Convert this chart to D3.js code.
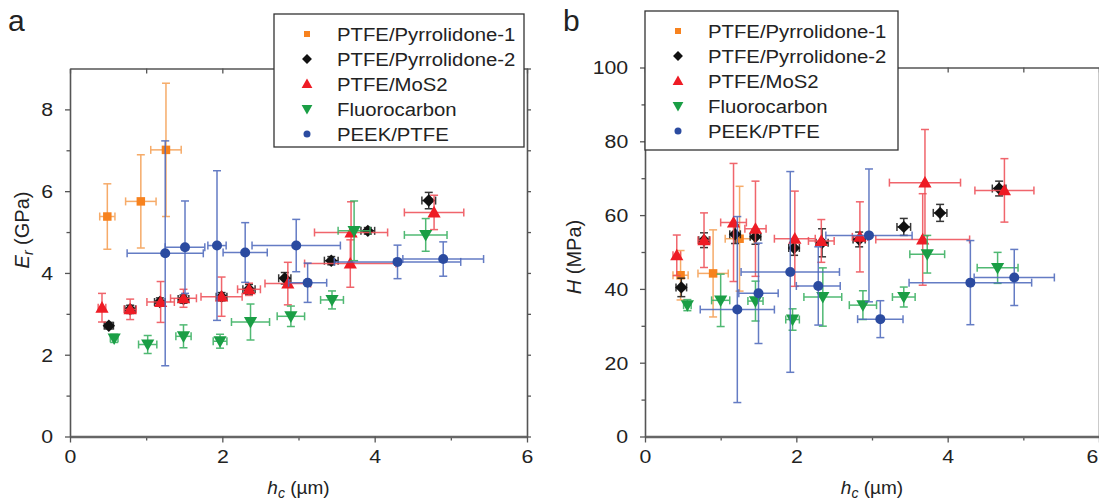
<!DOCTYPE html>
<html><head><meta charset="utf-8">
<script src="https://cdn.jsdelivr.net/npm/d3@7"></script>
<style>body{margin:0;background:#fff}svg{display:block}text{font-family:"Liberation Sans",Arial,sans-serif;fill:#222}</style>
</head><body><svg id="c" width="1099" height="502"></svg>
<script>
// ---------- data ----------
const seriesNames = ["PTFE/Pyrrolidone-1","PTFE/Pyrrolidone-2","PTFE/MoS2","Fluorocarbon","PEEK/PTFE"];
const seriesColors = ["#f7821e","#111111","#ee1c25","#1a9e45","#2b4ba0"];
const barColors = ["#f5a055","#222222","#ef5058","#38b060","#4f6abd"];
const seriesShapes = ["square","diamond","triangle","triangleDown","circle"];

// panel a : [hc (µm), Er (GPa), hc error, Er error]
const aPyr1 = [[0.49,5.38,0.10,0.80],[0.93,5.75,0.20,1.14],[1.26,7.01,0.20,1.63]];
const aPyr2 = [[0.51,2.71,0.06,0.08],[0.79,3.11,0.07,0.10],[1.18,3.29,0.07,0.10],[1.49,3.36,0.07,0.10],[1.99,3.42,0.07,0.10],
               [2.35,3.60,0.08,0.12],[2.82,3.87,0.08,0.14],[3.43,4.30,0.09,0.10],[3.91,5.03,0.09,0.08],[4.71,5.77,0.09,0.20]];
const aMoS2 = [[0.42,3.15,0.05,0.35],[0.79,3.11,0.08,0.25],[1.19,3.29,0.18,0.50],[1.49,3.38,0.17,0.22],[1.99,3.42,0.27,0.48],
               [2.35,3.60,0.15,0.15],[2.86,3.74,0.30,0.52],[3.68,4.23,0.60,0.58],[3.69,4.99,0.48,0.75],[4.78,5.48,0.39,0.42]];
const aFluoro = [[0.58,2.40,0.05,0.10],[1.02,2.25,0.12,0.22],[1.49,2.45,0.10,0.28],[1.97,2.33,0.09,0.17],[2.37,2.80,0.25,0.44],
                 [2.90,2.94,0.18,0.25],[3.44,3.34,0.15,0.22],[3.73,5.03,0.21,0.73],[4.67,4.93,0.28,0.40]];
const aPeek = [[1.25,4.48,0.50,2.75],[1.51,4.63,0.26,1.13],[1.93,4.67,0.12,1.83],[2.30,4.50,0.29,0.73],
               [2.97,4.67,0.58,0.64],[3.12,3.76,0.25,0.48],[4.30,4.27,0.83,0.41],[4.90,4.34,0.53,0.42]];

// panel b : [hc (µm), H (MPa), hc error, H error]
const bPyr1 = [[0.47,43.7,0.10,6.7],[0.90,44.2,0.20,11.8],[1.25,53.6,0.19,14.2]];
const bPyr2 = [[0.48,40.4,0.07,2.5],[0.78,53.2,0.07,2.0],[1.19,54.8,0.07,2.5],[1.46,54.1,0.07,2.0],[1.97,51.1,0.07,2.0],
               [2.34,52.5,0.08,3.8],[2.83,53.4,0.08,2.0],[3.42,56.8,0.09,2.3],[3.90,60.6,0.09,2.3],[4.68,67.2,0.09,2.0]];
const bMoS2 = [[0.42,49.1,0.05,5.5],[0.78,53.2,0.08,7.4],[1.17,58.0,0.17,16.0],[1.46,56.3,0.14,12.9],[1.98,53.6,0.27,12.9],
               [2.33,53.0,0.17,5.8],[2.84,54.1,0.10,9.5],[3.67,53.4,0.62,12.4],[3.70,68.8,0.47,14.4],[4.75,66.7,0.39,8.6]];
const bFluoro = [[0.56,35.6,0.05,1.5],[1.00,36.9,0.12,7.1],[1.46,36.7,0.10,5.4],[1.95,31.7,0.09,2.9],[2.35,37.8,0.25,7.9],
                 [2.88,35.6,0.18,3.9],[3.42,37.8,0.15,2.7],[3.73,49.4,0.23,5.1],[4.66,45.7,0.27,4.2]];
const bPeek = [[1.22,34.4,0.49,25.2],[1.50,38.8,0.26,13.6],[1.92,44.6,0.65,27.2],[2.29,40.8,0.29,10.6],
               [2.96,54.5,0.57,18.0],[3.11,31.8,0.30,5.0],[4.30,41.7,0.81,11.4],[4.88,43.1,0.53,7.6]];

const xTicks = [0,2,4,6];
const xMinorTicks = [1,3,5];
const xAllTicks = [0,1,2,3,4,5,6];
const aYTicks = [0,2,4,6,8];
const aYMinor = [1,3,5,7];
const aYAll = [0,1,2,3,4,5,6,7,8,9];
const bYTicks = [0,20,40,60,80,100];
const bYMinor = [10,30,50,70,90];
const bYAll = [0,10,20,30,40,50,60,70,80,90,100];

// ---------- drawing ----------
const svg = d3.select("#c");
svg.append("rect").attr("width",1099).attr("height",502).attr("fill","#fff");

function shapePath(shape, s){
  switch(shape){
    case "square": return `M${-s/2},${-s/2}h${s}v${s}h${-s}Z`;
    case "diamond": return `M0,${-s*0.62}L${s*0.62},0L0,${s*0.62}L${-s*0.62},0Z`;
    case "triangle": return `M0,${-s*0.6}L${s*0.6},${s*0.45}L${-s*0.6},${s*0.45}Z`;
    case "triangleDown": return `M0,${s*0.6}L${s*0.6},${-s*0.45}L${-s*0.6},${-s*0.45}Z`;
    case "circle": return d3.symbol(d3.symbolCircle, Math.PI*(s/2)*(s/2))();
  }
}
const markerSize = [8.5,10,11,11,10];
const legendSize = [6,8,9,9,7];
const fmt = d3.format("d");

function panel(opt){
  const g = svg.append("g");
  const x = d3.scaleLinear().domain([0,6]).range(opt.xRange);
  const y = d3.scaleLinear().domain(opt.yDomain).range(opt.yRange);
  const fs = 19, sx = 1.12;

  const axStyle = sel => { sel.select(".domain").attr("stroke","#555").attr("stroke-width",1.6);
    sel.selectAll(".tick line").attr("stroke","#555").attr("stroke-width",1.3); };

  g.append("g").attr("transform",`translate(${opt.xRange[0]},0)`)
    .call(d3.axisLeft(y).tickValues(opt.yMinor).tickSize(3.5).tickFormat(""))
    .call(axStyle).select(".domain").remove();
  g.append("g").attr("transform",`translate(0,${opt.yRange[0]})`)
    .call(d3.axisBottom(x).tickValues(xMinorTicks).tickSize(4).tickFormat(""))
    .call(axStyle).select(".domain").remove();
  g.append("g").attr("transform",`translate(0,${opt.yRange[1]})`)
    .call(d3.axisTop(x).tickValues(xAllTicks).tickSizeInner(-5).tickSizeOuter(0).tickFormat(""))
    .call(axStyle);
  g.append("g").attr("transform",`translate(${opt.xRange[1]},0)`)
    .call(d3.axisRight(y).tickValues(opt.yAll).tickSizeInner(4).tickSizeOuter(0).tickFormat(""))
    .call(axStyle);
  const yl = g.append("g").attr("transform",`translate(${opt.xRange[0]},0)`)
    .call(d3.axisLeft(y).tickValues(opt.yTicks).tickSizeInner(5).tickSizeOuter(0).tickPadding(10).tickFormat(fmt))
    .call(axStyle);
  yl.selectAll("text").attr("font-size",fs).attr("font-family","Liberation Sans, Arial, sans-serif")
    .attr("fill","#222").attr("transform",`scale(${sx},1)`).attr("dy","0.34em");
  const xl = g.append("g").attr("transform",`translate(0,${opt.yRange[0]})`)
    .call(d3.axisBottom(x).tickValues(xTicks).tickSizeInner(6).tickSizeOuter(0).tickPadding(7).tickFormat(fmt))
    .call(axStyle);
  xl.select(".domain").attr("stroke-width",2.6).attr("stroke","#666");
  xl.selectAll("text").attr("font-size",fs).attr("font-family","Liberation Sans, Arial, sans-serif")
    .attr("fill","#222").attr("transform",`scale(${sx},1)`);
  if (opt.lastLabelEnd) {
    xl.selectAll(".tick").filter(d=>d===6).select("text").attr("text-anchor","end").attr("x",-1);
  }

  const plot = g.append("g");
  opt.series.forEach((data,i)=>{
    const sg = plot.append("g");
    const col = barColors[i];
    const cap = 4;
    data.forEach(d=>{
      const [hc,v,xe,ye] = d;
      const cx = x(hc), cy = y(v);
      const eb = sg.append("g").attr("stroke",col).attr("stroke-width",1.5).attr("fill","none")
        .attr("opacity", i===1 ? 0.9 : 0.88);
      eb.append("line").attr("x1",cx).attr("x2",cx).attr("y1",y(v-ye)).attr("y2",y(v+ye));
      eb.append("line").attr("x1",cx-cap).attr("x2",cx+cap).attr("y1",y(v-ye)).attr("y2",y(v-ye));
      eb.append("line").attr("x1",cx-cap).attr("x2",cx+cap).attr("y1",y(v+ye)).attr("y2",y(v+ye));
      eb.append("line").attr("x1",x(hc-xe)).attr("x2",x(hc+xe)).attr("y1",cy).attr("y2",cy);
      eb.append("line").attr("x1",x(hc-xe)).attr("x2",x(hc-xe)).attr("y1",cy-cap).attr("y2",cy+cap);
      eb.append("line").attr("x1",x(hc+xe)).attr("x2",x(hc+xe)).attr("y1",cy-cap).attr("y2",cy+cap);
    });
    sg.selectAll("path.m").data(data).join("path").attr("class","m")
      .attr("d",shapePath(seriesShapes[i], markerSize[i]))
      .attr("transform",d=>`translate(${x(d[0])},${y(d[1])})`)
      .attr("fill",seriesColors[i]);
  });

  const L = opt.legend;
  const lg = g.append("g");
  lg.append("rect").attr("x",L.x).attr("y",L.y).attr("width",L.w).attr("height",L.h)
    .attr("fill","#fff").attr("stroke","#333").attr("stroke-width",1.3);
  seriesNames.forEach((nm,i)=>{
    const ry = L.y + 20 + i*25;
    lg.append("path").attr("d",shapePath(seriesShapes[i],legendSize[i]))
      .attr("transform",`translate(${L.x+33},${ry})`).attr("fill",seriesColors[i]);
    lg.append("text").attr("transform",`translate(${L.x+63},${ry+6.5}) scale(1.07,1)`)
      .attr("font-size",19).text(nm);
  });

  svg.append("text").attr("x",opt.letter[0]).attr("y",opt.letter[1]).attr("font-size",30).text(opt.letterText);

  const xt = svg.append("text").attr("x",(opt.xRange[0]+opt.xRange[1])/2).attr("y",494)
    .attr("text-anchor","middle").attr("font-size",19);
  xt.append("tspan").attr("font-style","italic").text("h");
  xt.append("tspan").attr("font-style","italic").attr("font-size",14).attr("dy",4).text("c");
  xt.append("tspan").attr("dy",-4).text(" (\u00b5m)");

  const yt = svg.append("text").attr("transform",`translate(${opt.yTitle[0]},${opt.yTitle[1]}) rotate(-90)`)
    .attr("text-anchor","middle").attr("font-size",20);
  opt.yTitleParts(yt);
}

panel({
  xRange:[70,527], yDomain:[0,9], yRange:[436.5,68.5],
  yTicks:aYTicks, yMinor:aYMinor, yAll:aYAll,
  series:[aPyr1,aPyr2,aMoS2,aFluoro,aPeek],
  legend:{x:274,y:14,w:250,h:133},
  letter:[8,31], letterText:"a",
  yTitle:[29,230],
  yTitleParts: t=>{ t.append("tspan").attr("font-style","italic").text("E");
    t.append("tspan").attr("font-style","italic").attr("font-size",14).attr("dy",4).text("r");
    t.append("tspan").attr("dy",-4).text(" (GPa)"); }
});
panel({
  xRange:[645,1099], yDomain:[0,100], yRange:[436.5,67.5],
  yTicks:bYTicks, yMinor:bYMinor, yAll:bYAll,
  series:[bPyr1,bPyr2,bMoS2,bFluoro,bPeek],
  legend:{x:645,y:11,w:253,h:139},
  letter:[563,31], letterText:"b", lastLabelEnd:true,
  yTitle:[581,257],
  yTitleParts: t=>{ t.append("tspan").attr("font-style","italic").text("H");
    t.append("tspan").text(" (MPa)"); }
});
</script></body></html>
